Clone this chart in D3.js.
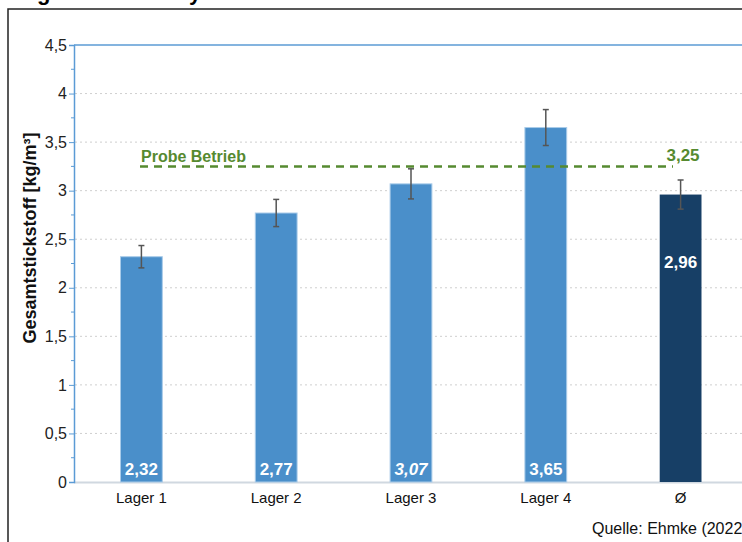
<!DOCTYPE html>
<meta charset="UTF-8">
<head>
<script src="https://cdn.jsdelivr.net/npm/d3@7"></script>
</head>
<style>
body { margin: 0; background: #fff; }
text { font-family: "Liberation Sans", Arial, sans-serif; }
.grid line { stroke: #cfcfcf; stroke-dasharray: 2,3; }
</style>
<body>
<div id="chart"></div>
<script>

// data
var categories = ["Lager 1", "Lager 2", "Lager 3", "Lager 4", "Ø"];
var values     = [2.32, 2.77, 3.07, 3.65, 2.96];
var errors     = [0.115, 0.14, 0.155, 0.185, 0.15];
var valueLabels = ["2,32", "2,77", "3,07", "3,65", "2,96"];
var yTicks     = [0, 0.5, 1, 1.5, 2, 2.5, 3, 3.5, 4, 4.5];
var yTickLabels = ["0", "0,5", "1", "1,5", "2", "2,5", "3", "3,5", "4", "4,5"];
var reference  = 3.25;

var width = 742, height = 542;

var svg = d3.select("#chart").append("svg")
    .attr("width", width)
    .attr("height", height);

// outer frame (runs off the page right and bottom)
svg.append("rect")
    .attr("x", 8).attr("y", 9)
    .attr("width", 800).attr("height", 600)
    .attr("fill", "none")
    .attr("stroke", "#222")
    .attr("stroke-width", 1.5);

// bits of the cut-off title above the frame
svg.append("text").attr("x", 37).attr("y", 0)
    .style("font-size", "22px").style("font-weight", "bold").text("g");
svg.append("text").attr("x", 189).attr("y", 0)
    .style("font-size", "22px").style("font-weight", "bold").text("y");

var y = d3.scaleLinear().domain([0, 4.5]).range([482, 45]);
var x = d3.scaleBand().domain(categories)
    .range([74, 748])
    .paddingInner(0.69)
    .paddingOuter(0.345);

// dotted gridlines
svg.append("g").attr("class", "grid")
  .selectAll("line")
  .data(yTicks.slice(1, -1))
  .enter().append("line")
    .attr("x1", 75).attr("x2", width)
    .attr("y1", function(d) { return y(d); })
    .attr("y2", function(d) { return y(d); });

// top border line of plot
svg.append("line")
    .attr("x1", 74).attr("x2", width)
    .attr("y1", y(4.5)).attr("y2", y(4.5))
    .attr("stroke", "#5b9bd5").attr("stroke-width", 1.5);

// baseline
svg.append("line")
    .attr("x1", 74).attr("x2", width)
    .attr("y1", y(0) + 0.5).attr("y2", y(0) + 0.5)
    .attr("stroke", "#d0d8e0").attr("stroke-width", 2);

// y axis
var yAxis = d3.axisLeft(y)
    .tickValues(yTicks)
    .tickSize(5)
    .tickFormat(function(d, i) { return yTickLabels[i]; });

var gy = svg.append("g")
    .attr("transform", "translate(74,0)")
    .call(yAxis);
gy.select(".domain").attr("stroke", "#5b9bd5").attr("stroke-width", 1.5);
gy.selectAll(".tick line").attr("stroke", "#5b9bd5");
gy.selectAll(".tick text")
    .attr("x", -7)
    .style("font-size", "16px")
    .style("font-family", "'Liberation Sans', Arial, sans-serif")
    .attr("fill", "#222");

// minor ticks
var minor = d3.range(0.25, 4.5, 0.5);
svg.append("g").selectAll("line")
  .data(minor)
  .enter().append("line")
    .attr("x1", 71).attr("x2", 74)
    .attr("y1", function(d) { return y(d); })
    .attr("y2", function(d) { return y(d); })
    .attr("stroke", "#5b9bd5");

// bars
svg.append("g").selectAll("rect")
  .data(values)
  .enter().append("rect")
    .attr("x", function(d, i) { return x(categories[i]); })
    .attr("width", x.bandwidth())
    .attr("y", function(d) { return y(d); })
    .attr("height", function(d) { return y(0) - y(d); })
    .attr("fill", function(d, i) { return i == 4 ? "#173f66" : "#4a8fca"; })
    .attr("stroke", function(d, i) { return i == 4 ? "none" : "#a9cbe9"; })
    .attr("stroke-width", 1);

// error bars
var eb = svg.append("g").selectAll("g")
  .data(values)
  .enter().append("g")
    .attr("stroke", "#555")
    .attr("stroke-width", 1.5);
eb.append("line")
    .attr("x1", function(d, i) { return x(categories[i]) + x.bandwidth() / 2; })
    .attr("x2", function(d, i) { return x(categories[i]) + x.bandwidth() / 2; })
    .attr("y1", function(d, i) { return y(d + errors[i]); })
    .attr("y2", function(d, i) { return y(d - errors[i]); });
[1, -1].forEach(function(s) {
  eb.append("line")
    .attr("x1", function(d, i) { return x(categories[i]) + x.bandwidth() / 2 - 3; })
    .attr("x2", function(d, i) { return x(categories[i]) + x.bandwidth() / 2 + 3; })
    .attr("y1", function(d, i) { return y(d + s * errors[i]); })
    .attr("y2", function(d, i) { return y(d + s * errors[i]); });
});

// value labels inside bars
svg.append("g").selectAll("text")
  .data(values)
  .enter().append("text")
    .attr("x", function(d, i) { return x(categories[i]) + x.bandwidth() / 2; })
    .attr("y", function(d, i) { return i == 4 ? y(d) + 73 : y(0) - 7; })
    .attr("text-anchor", "middle")
    .attr("fill", "#fff")
    .style("font-size", "17px")
    .style("font-weight", "bold")
    .style("font-style", function(d, i) { return i == 2 ? "italic" : "normal"; })
    .text(function(d, i) { return valueLabels[i]; });

// category labels
svg.append("g").selectAll("text")
  .data(categories)
  .enter().append("text")
    .attr("x", function(d) { return x(d) + x.bandwidth() / 2; })
    .attr("y", 503)
    .attr("text-anchor", "middle")
    .attr("fill", "#111")
    .style("font-size", "15px")
    .text(function(d) { return d; });

// reference line
var refY = y(reference);
svg.append("line")
    .attr("x1", 140).attr("x2", 673)
    .attr("y1", refY).attr("y2", refY)
    .attr("stroke", "#568a30")
    .attr("stroke-width", 2.5)
    .attr("stroke-dasharray", "8,6");

svg.append("text")
    .attr("x", 141).attr("y", refY - 4)
    .attr("fill", "#568a30")
    .style("font-size", "16px").style("font-weight", "bold")
    .text("Probe Betrieb");

svg.append("text")
    .attr("x", 683).attr("y", refY - 5)
    .attr("text-anchor", "middle")
    .attr("fill", "#568a30")
    .style("font-size", "17px").style("font-weight", "bold")
    .text("3,25");

// y title
svg.append("text")
    .attr("transform", "translate(36,238) rotate(-90)")
    .attr("text-anchor", "middle")
    .attr("fill", "#111")
    .style("font-size", "18px").style("font-weight", "bold")
    .text("Gesamtstickstoff [kg/m³]");

// source (cut off at the right edge, as in the original)
svg.append("text")
    .attr("x", 592).attr("y", 534)
    .attr("fill", "#111")
    .style("font-size", "16px")
    .text("Quelle: Ehmke (2022)");

</script>
</body>
